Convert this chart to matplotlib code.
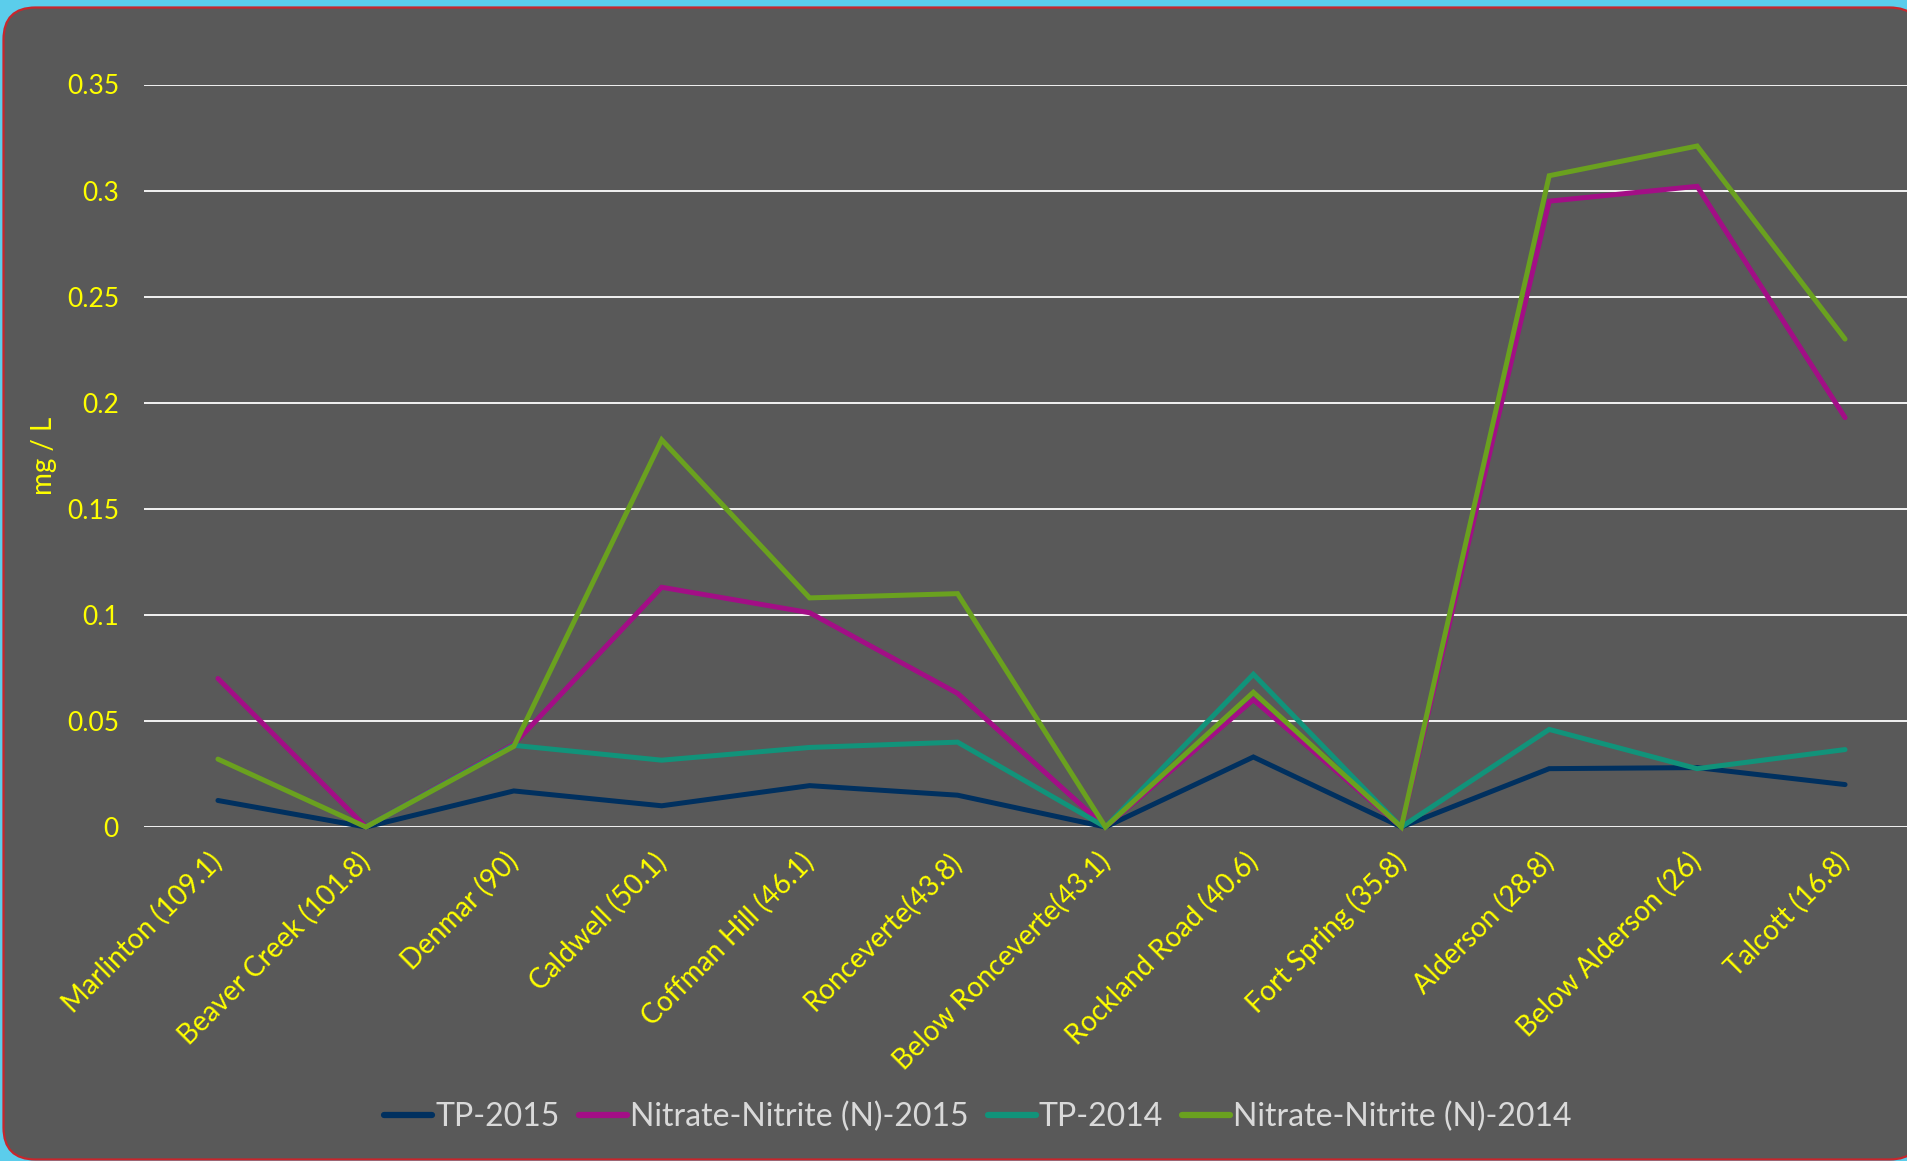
import numpy as np
import matplotlib
matplotlib.use("Agg")
import matplotlib.pyplot as plt
from matplotlib.patches import FancyBboxPatch
from matplotlib.transforms import IdentityTransform

plt.rcParams['font.family'] = ['Lato', 'DejaVu Sans']

sites = ["Marlinton (109.1)", "Beaver Creek (101.8)", "Denmar (90)", "Caldwell (50.1)",
         "Coffman Hill (46.1)", "Ronceverte(43.8)", "Below Ronceverte(43.1)",
         "Rockland Road (40.6)", "Fort Spring (35.8)", "Alderson (28.8)",
         "Below Alderson (26)", "Talcott (16.8)"]

tp_2015 = [0.0125, 0.0, 0.017, 0.010, 0.0195, 0.015, 0.0, 0.033, 0.0, 0.0275, 0.028, 0.020]
nn_2015 = [0.070, 0.0, 0.039, 0.113, 0.101, 0.063, 0.0, 0.060, 0.0, 0.295, 0.302, 0.193]
tp_2014 = [np.nan, 0.0, 0.0385, 0.0315, 0.0375, 0.040, 0.0, 0.072, 0.0, 0.046, 0.0275, 0.0365]
nn_2014 = [0.032, 0.0, 0.038, 0.1825, 0.108, 0.110, 0.0, 0.0635, 0.0, 0.307, 0.321, 0.230]

series = [("TP-2015", tp_2015, "#00305F"),
          ("Nitrate-Nitrite (N)-2015", nn_2015, "#A30E86"),
          ("TP-2014", tp_2014, "#11937A"),
          ("Nitrate-Nitrite (N)-2014", nn_2014, "#6AA11F")]

yticks = [0, 0.05, 0.1, 0.15, 0.2, 0.25, 0.3, 0.35]
ytick_labels = ["0", "0.05", "0.1", "0.15", "0.2", "0.25", "0.3", "0.35"]

W, H = 1908, 1161
fig = plt.figure(figsize=(W / 100, H / 100), dpi=100)
fig.patch.set_facecolor("#5BCDEB")

panel = FancyBboxPatch((3.5, 1.5), W + 10, H - 9,
                       boxstyle="round,pad=0,rounding_size=32",
                       transform=IdentityTransform(), facecolor="#595959",
                       edgecolor="#C8262C", linewidth=1.6, zorder=-10)
fig.patches.append(panel)

ax = fig.add_axes([144 / W, 334 / H, (1919 - 144) / W, (1076.5 - 334) / H])
ax.set_zorder(1)
ax.set_facecolor("none")
ax.patch.set_alpha(0)

x = np.arange(len(sites))
for name, vals, col in series:
    ax.plot(x, vals, color=col, lw=3.6, label=name, solid_capstyle='round',
            solid_joinstyle='miter', clip_on=False)

ax.set_xlim(-0.5, 11.5)
ax.set_ylim(0, 0.35)
ax.set_yticks(yticks)
ax.set_yticklabels(ytick_labels)
ax.set_xticks(x)
ax.set_xticklabels(sites, rotation=45, ha='right', va='center', rotation_mode='anchor',
                   fontsize=20)
ax.tick_params(axis='both', length=0, labelcolor="#FFFF00")
ax.tick_params(axis='y', pad=18, labelsize=19)
ax.tick_params(axis='x', pad=22)
for s in ax.spines.values():
    s.set_visible(False)
ax.grid(axis='y', color='white', lw=1.3)
ax.set_axisbelow(True)
ax.set_ylabel("mg / L", color="#FFFF00", fontsize=20)
ax.yaxis.set_label_coords(-0.049, 0.5)

leg = fig.legend(loc='center', bbox_to_anchor=(978 / W, 1 - 1117 / H), ncol=4,
                 frameon=False, fontsize=23, handlelength=1.5, handletextpad=0.1,
                 columnspacing=0.6, labelcolor="#D9D9D9")
leg.set_zorder(2)
for line in leg.get_lines():
    line.set_linewidth(4.5)
    line.set_solid_capstyle('round')

fig.savefig("out.png", dpi=100, facecolor=fig.get_facecolor())
